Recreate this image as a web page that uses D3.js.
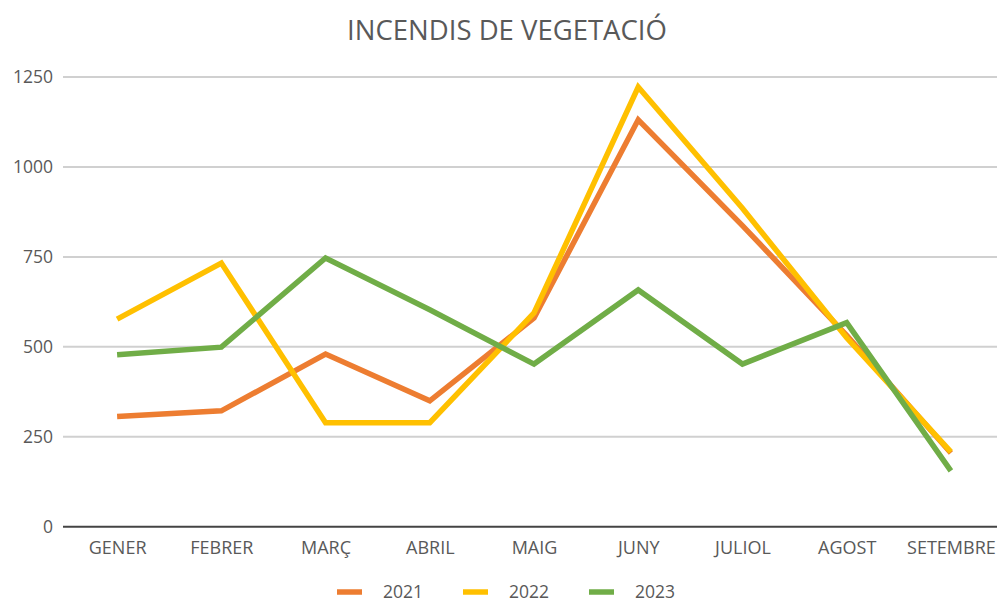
<!DOCTYPE html>
<html lang="ca">
<head>
<meta charset="UTF-8" />
<title>Incendis de vegetació</title>
<script src="https://cdn.jsdelivr.net/npm/d3@7"></script>
<style>
  body { margin: 0; background: #fff; }
  text { font-family: "Open Sans", "Liberation Sans", sans-serif; fill: #595959; }
</style>
</head>
<body>
<div id="chart"></div>
<script>
// months on the x axis
var months = ["GENER", "FEBRER", "MARÇ", "ABRIL", "MAIG", "JUNY", "JULIOL", "AGOST", "SETEMBRE"];
var years = ["2021", "2022", "2023"];
var v2021 = [306, 322, 480, 350, 580, 1131, 837, 532, 205];
var v2022 = [577, 733, 289, 289, 594, 1222, 885, 525, 208];
var v2023 = [478, 499, 747, 603, 452, 658, 452, 567, 155];
var yTicks = [0, 250, 500, 750, 1000, 1250];
var colors = ["#ED7D31", "#FFC000", "#70AD47"];

var width = 997, height = 601;
var margin = { top: 77, right: -6, bottom: 74, left: 65 };

var svg = d3.select("#chart").append("svg")
  .attr("width", width)
  .attr("height", height);

// title
svg.append("text")
  .attr("x", 507)
  .attr("y", 40)
  .attr("text-anchor", "middle")
  .style("font-size", "27.5px")
  .text("INCENDIS DE VEGETACIÓ");

var x = d3.scalePoint()
  .domain(months)
  .range([margin.left, width - margin.right])
  .padding(0.5);

var y = d3.scaleLinear()
  .domain([0, 1250])
  .range([height - margin.bottom - 0.3, margin.top]);

// gridlines
svg.append("g")
  .selectAll("line")
  .data(yTicks.slice(1))
  .enter().append("line")
  .attr("x1", margin.left - 2)
  .attr("x2", width)
  .attr("y1", function(d) { return y(d); })
  .attr("y2", function(d) { return y(d); })
  .attr("stroke", "#d0d0d0")
  .attr("stroke-width", 2);

// y axis labels
var yAxis = d3.axisLeft(y).tickValues(yTicks).tickFormat(d3.format("d")).tickSize(0).tickPadding(12);
var gy = svg.append("g")
  .attr("transform", "translate(" + (margin.left) + ",0)")
  .call(yAxis);
gy.select(".domain").remove();
gy.selectAll("text").style("font-size", "17.5px").attr("fill", "#595959");

// x axis
var xAxis = d3.axisBottom(x).tickSize(0).tickPadding(15);
var gx = svg.append("g")
  .attr("transform", "translate(0," + y(0) + ")")
  .call(xAxis);
gx.select(".domain").remove();
gx.selectAll("text").style("font-size", "18px").attr("fill", "#595959");

svg.append("line")
  .attr("x1", margin.left - 2)
  .attr("x2", width)
  .attr("y1", y(0))
  .attr("y2", y(0))
  .attr("stroke", "#444")
  .attr("stroke-width", 2);

// lines
var series = [v2021, v2022, v2023];
var line = d3.line()
  .x(function(d, i) { return x(months[i]); })
  .y(function(d) { return y(d); });

series.forEach(function(s, i) {
  svg.append("path")
    .datum(s)
    .attr("d", line)
    .attr("fill", "none")
    .attr("stroke", colors[i])
    .attr("stroke-width", 5.5)
    .attr("stroke-linejoin", "miter");
});

// legend
var legendX = [337, 463, 589];
years.forEach(function(yr, i) {
  svg.append("line")
    .attr("x1", legendX[i])
    .attr("x2", legendX[i] + 25)
    .attr("y1", 592)
    .attr("y2", 592)
    .attr("stroke", colors[i])
    .attr("stroke-width", 5.5);
  svg.append("text")
    .attr("x", legendX[i] + 46)
    .attr("y", 592)
    .attr("dy", "0.35em")
    .style("font-size", "17.5px")
    .text(yr);
});
</script>
</body>
</html>
